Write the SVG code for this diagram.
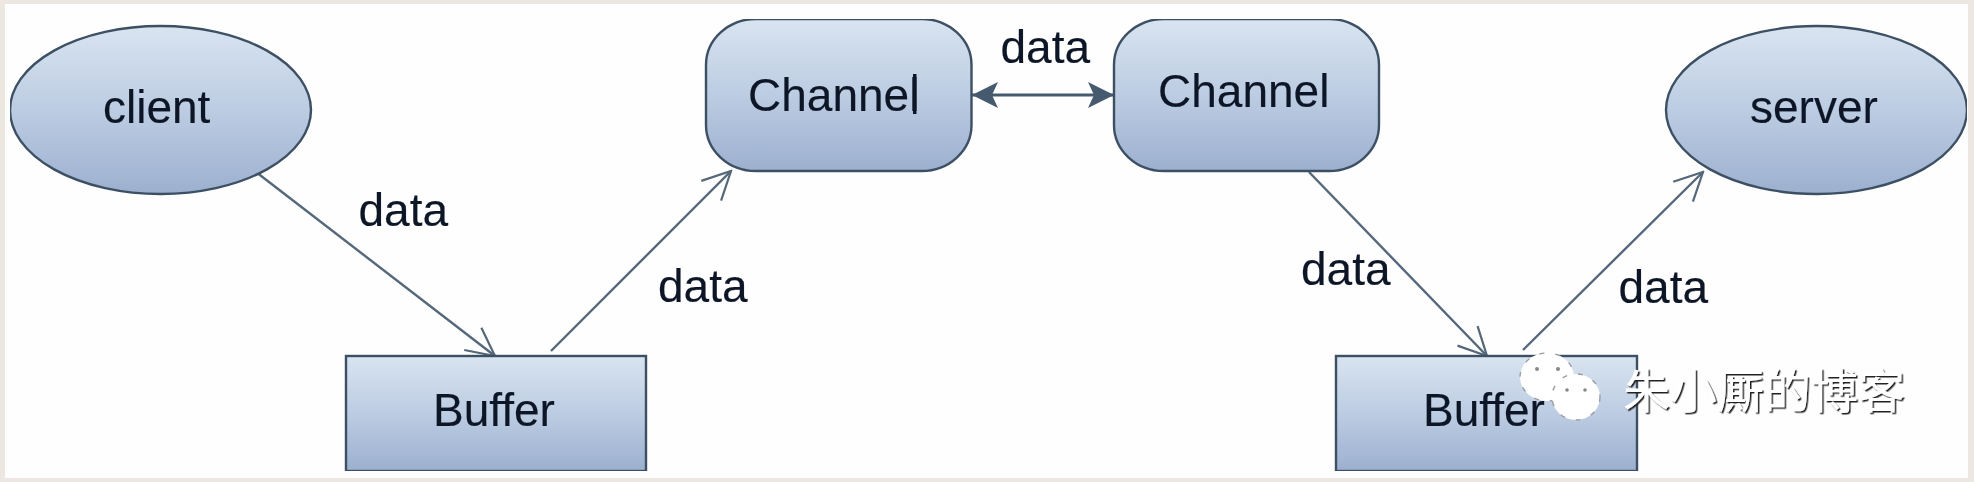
<svg xmlns="http://www.w3.org/2000/svg" width="1974" height="482" viewBox="0 0 1974 482">
<style>
.n{fill:url(#g);stroke:#3c5064;stroke-width:2.4}
.t{font-family:"Liberation Sans",Arial,sans-serif;font-size:46px;fill:#101828;stroke:#101828;stroke-width:.15}
.c{fill:none;stroke:#55677a;stroke-width:2.4}
.d{fill:none;stroke:#445a6e;stroke-width:3}
.w{font-family:"Noto Sans CJK SC",sans-serif;font-size:47px;fill:#fff}
.f{fill:#fff;stroke:#9a9ea4;stroke-width:1.4;stroke-dasharray:5 11}
.e{fill:#888}
</style>
<defs>
<linearGradient id="g" x1="0" y1="0" x2="0" y2="1"><stop offset="0" stop-color="#d9e4f0"/><stop offset=".5" stop-color="#bccce2"/><stop offset="1" stop-color="#9cb0cf"/></linearGradient>
<marker id="o" viewBox="0 0 32 32" refX="30" refY="16" markerWidth="32" markerHeight="32" markerUnits="userSpaceOnUse" orient="auto"><path d="M2 2L30 16L2 30" fill="none" stroke="#55677a" stroke-width="2.2"/></marker>
<marker id="fe" viewBox="0 0 26 28" refX="26" refY="14" markerWidth="26" markerHeight="28" markerUnits="userSpaceOnUse" orient="auto"><path d="M0 1L26 14L0 27L6 14Z" fill="#445a6e"/></marker>
<marker id="fs" viewBox="0 0 26 28" refX="0" refY="14" markerWidth="26" markerHeight="28" markerUnits="userSpaceOnUse" orient="auto"><path d="M26 1L0 14L26 27L20 14Z" fill="#445a6e"/></marker>
<filter id="b" x="0" y="0" width="100%" height="100%"><feGaussianBlur stdDeviation="0.7"/></filter>
<filter id="s" x="-5%" y="-20%" width="110%" height="140%"><feDropShadow dx="1.500" dy="1.500" stdDeviation="0.4" flood-color="#222"/></filter>
</defs>
<rect width="1974" height="482" fill="#ece8e1"/>
<rect x="5" y="4" width="1963" height="474" fill="#fefefe"/>
<g filter="url(#b)">
<g id="connectors">
<path class="c" d="M256 172L495 356" marker-end="url(#o)"/>
<path class="c" d="M551 351L731 171" marker-end="url(#o)"/>
<path class="d" d="M972 95H1114" marker-start="url(#fs)" marker-end="url(#fe)"/>
<path class="c" d="M1309 172L1487 356" marker-end="url(#o)"/>
<path class="c" d="M1523 350L1703 172" marker-end="url(#o)"/>
</g>
<g id="client"><ellipse class="n" cx="160.500" cy="110" rx="150.500" ry="84"/><text class="t" x="103" y="123">client</text></g>
<g id="buffer1"><rect class="n" x="346" y="356" width="300" height="115"/><text class="t" x="433" y="426">Buffer</text></g>
<g id="channel1"><rect class="n" x="706" y="19" width="265.500" height="152" rx="50" ry="46"/><text class="t" x="748" y="111">Channel</text><rect x="913" y="74" width="3.500" height="40" fill="#101828"/></g>
<g id="channel2"><rect class="n" x="1114" y="19" width="265" height="152" rx="50" ry="46"/><text class="t" x="1158" y="107">Channel</text></g>
<g id="server"><ellipse class="n" cx="1816.500" cy="110" rx="150.500" ry="84"/><text class="t" x="1750" y="123">server</text></g>
<g id="buffer2"><rect class="n" x="1336" y="356" width="301" height="115"/><text class="t" x="1423" y="426">Buffer</text></g>
<g id="data-labels">
<text class="t" x="358.500" y="226">data</text>
<text class="t" x="658" y="302">data</text>
<text class="t" x="1000.500" y="63">data</text>
<text class="t" x="1301" y="285">data</text>
<text class="t" x="1618.500" y="303">data</text>
</g>
<g id="watermark">
<ellipse class="f" cx="1547" cy="377" rx="27" ry="24"/>
<ellipse class="f" cx="1576" cy="397" rx="24" ry="23"/>
<circle class="e" cx="1537" cy="369" r="2"/><circle class="e" cx="1558" cy="369" r="2"/>
<circle class="e" cx="1567" cy="390" r="1.800"/><circle class="e" cx="1585" cy="390" r="1.800"/>
<text class="w" x="1623" y="408" filter="url(#s)">朱小厮的博客</text>
</g>
</g>
</svg>
